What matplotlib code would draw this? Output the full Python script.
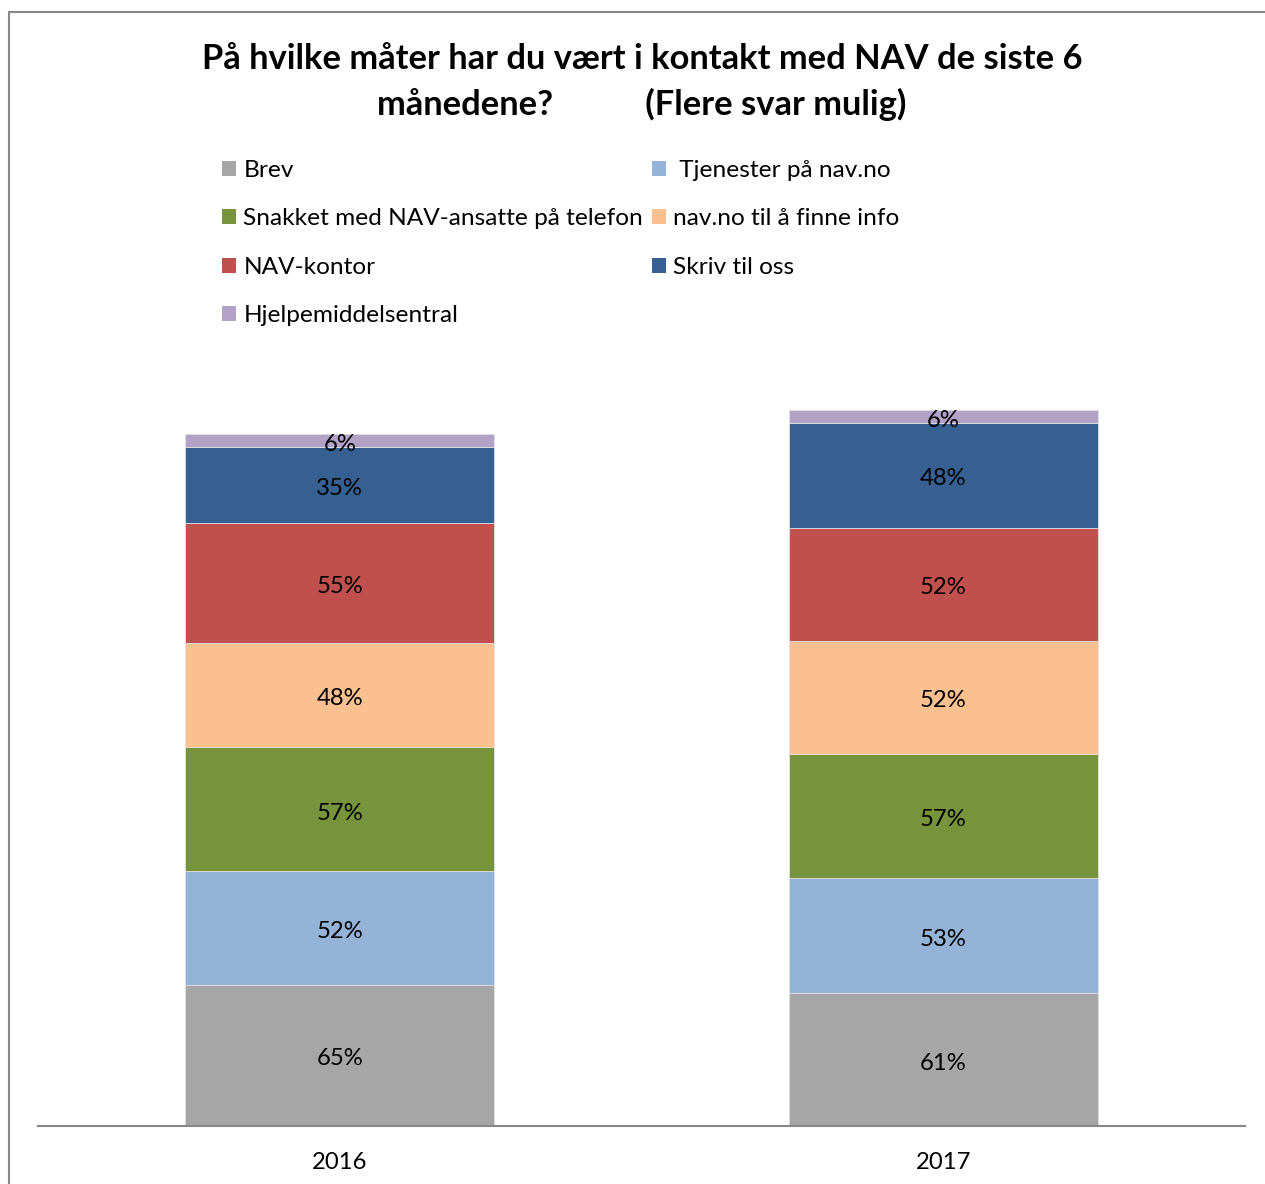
import matplotlib
matplotlib.use("Agg")
import matplotlib.pyplot as plt
from matplotlib.patches import Rectangle, Patch
import numpy as np

plt.rcParams['font.family'] = ['Lato', 'DejaVu Sans']

years = ["2016", "2017"]
series = ["Brev", " Tjenester på nav.no", "Snakket med NAV-ansatte på telefon",
          "nav.no til å finne info", "NAV-kontor", "Skriv til oss", "Hjelpemiddelsentral"]
brev = [65, 61]
tjenester = [52, 53]
snakket = [57, 57]
navno_info = [48, 52]
nav_kontor = [55, 52]
skriv = [35, 48]
hjelpemiddel = [6, 6]
colors = ["#A6A6A6", "#95B3D7", "#77933C", "#FAC090", "#C0504D", "#366092", "#B3A2C7"]

values = [brev, tjenester, snakket, navno_info, nav_kontor, skriv, hjelpemiddel]

W, H = 1265, 1184
fig = plt.figure(figsize=(W / 100, H / 100), dpi=100)

# outer frame
fig.patches.append(Rectangle((9 / W, -0.05), 1.2, (H - 12) / H + 0.05, transform=fig.transFigure,
                             fill=False, edgecolor="#868686", linewidth=1.5))

ax_left, ax_right = 38 / W, 1245 / W
ax_bottom = (H - 1126) / H
px_per_unit = 2.176
ymax = 340
ax_h = ymax * px_per_unit / H
ax = fig.add_axes([ax_left, ax_bottom, ax_right - ax_left, ax_h])

x = np.arange(len(years))
bottom = np.zeros(len(years))
handles = []
for name, vals, c in zip(series, values, colors):
    v = np.array(vals, dtype=float)
    ax.bar(x, v, width=0.512, bottom=bottom, color=c, edgecolor="#E0E0E0", linewidth=0.6,
           label=name)
    for xi, b, vi in zip(x, bottom, v):
        ax.annotate(f"{int(vi)}%", (xi, b + vi / 2), xytext=(0, -2.6), textcoords="offset points",
                    ha="center", va="center", fontsize=17.2, color="black")
    bottom += v
    handles.append(Patch(facecolor=c, edgecolor="none", label=name))

ax.set_xlim(-0.5, 1.5)
ax.set_ylim(0, ymax)
ax.set_yticks([])
ax.set_xticks(x)
ax.set_xticklabels(years, fontsize=17.2)
ax.tick_params(axis="x", length=0, pad=19)
for s in ["top", "right", "left"]:
    ax.spines[s].set_visible(False)
ax.spines["bottom"].set_color("#868686")
ax.spines["bottom"].set_linewidth(1.5)
ax.patch.set_alpha(0)

order = [0, 2, 4, 6, 1, 3, 5]
leg = fig.legend([handles[i] for i in order], [series[i] for i in order],
                 loc="upper left", bbox_to_anchor=(222 / W, 1 - 160 / H), ncol=2,
                 frameon=False, fontsize=17.6, handlelength=0.57, handleheight=0.57,
                 handletextpad=0.3, columnspacing=0.35, labelspacing=1.12, borderpad=0,
                 borderaxespad=0)

fig.text(642 / W, 1 - 59 / H, "På hvilke måter har du vært i kontakt med NAV de siste 6",
         ha="center", va="center", fontsize=24.8, fontweight="bold")
fig.text(642 / W, 1 - 104 / H, "månedene?           (Flere svar mulig)",
         ha="center", va="center", fontsize=24.8, fontweight="bold")

fig.savefig("out.png", dpi=100)
